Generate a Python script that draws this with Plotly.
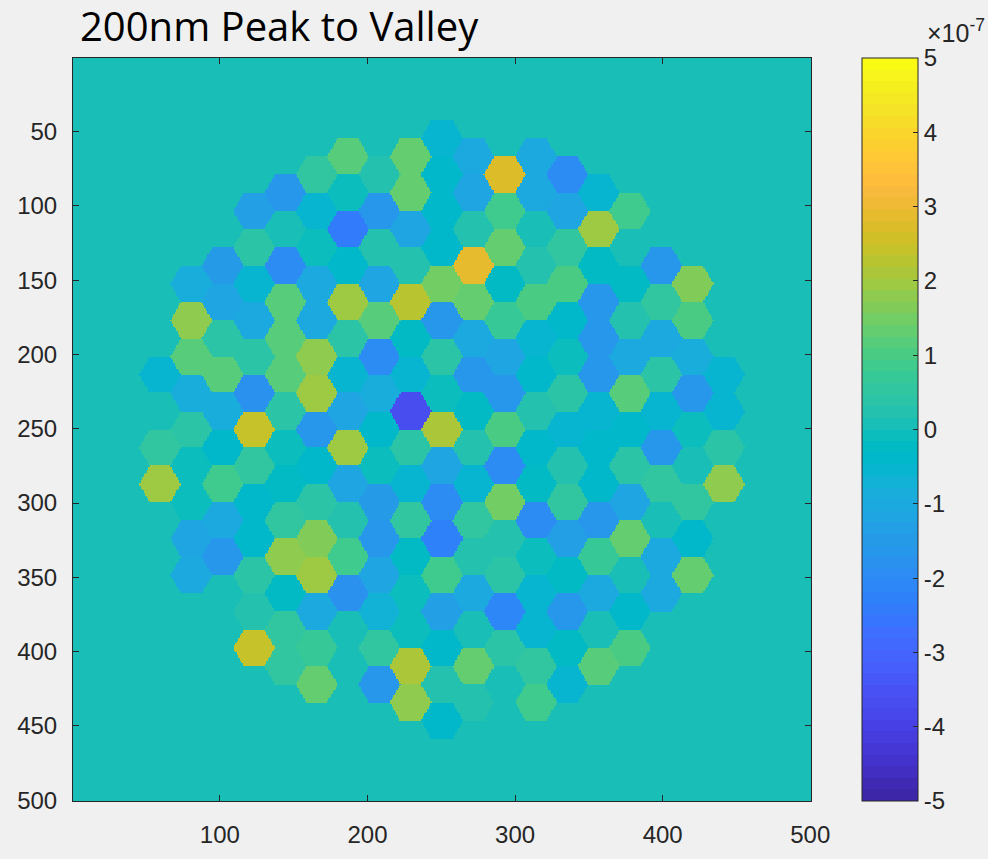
import numpy as np
import plotly.graph_objects as go

# ---- Segment values (units of 1e-7), one list per hex column, left (k=-9) to right (k=+9),
# ---- each listed top to bottom
col_n9 = [-0.6, 0.0, 0.5, 2.0]
col_n8 = [-0.8, 1.85, 1.15, -0.9, 0.4, -0.05, -0.1, -1.25, -1.0]
col_n7 = [-1.5, -1.1, 0.35, 1.1, -0.85, -0.45, 0.9, -1.0, -1.7, 0.0]
col_n6 = [-1.3, 0.4, -0.5, -1.0, 0.4, -1.8, 2.45, 0.55, -0.45, -0.45, 0.4, 0.2, 2.45]
col_n5 = [-1.7, 0.15, -1.9, 1.1, 1.1, 1.15, 0.45, -0.15, -0.2, 0.55, 1.85, -0.25, 0.6, 0.5]
col_n4 = [0.6, -0.5, -0.1, -1.0, -1.05, 1.8, 1.9, -1.6, -0.4, 0.35, 1.6, 1.9, -0.95, 0.65, 1.3]
col_n3 = [1.1, -0.1, -2.5, -0.4, 1.9, 0.4, -0.55, -1.25, 2.0, -1.2, 0.25, 0.8, -1.75, 0.05, 0.1, 0.0]
col_n2 = [0.2, -1.7, 0.3, -1.15, 1.1, -2.0, -0.85, -0.45, -0.05, -1.45, -1.7, -1.15, -0.75, 0.6, -1.65]
col_n1 = [1.35, 1.35, -1.1, 0.3, 2.3, -0.3, -0.6, -3.7, 0.35, -0.55, 0.6, -0.25, -0.15, -0.1, 2.1, 1.85]
col_0 = [-0.5, -0.4, -0.45, -0.35, 1.45, -1.6, 0.45, -0.15, 2.1, -1.1, -1.9, -2.2, 0.8, -1.4, -0.45, 0.2, -0.4]
col_p1 = [-1.0, -1.2, 0.25, 2.85, 1.4, -1.0, -1.7, -0.2, 0.3, -0.5, 0.55, 0.3, -1.0, 0.15, 1.25, 0.2]
col_p2 = [2.7, 0.9, 1.3, -0.3, 0.65, -1.15, -1.7, 0.95, -1.9, 1.5, 0.25, 0.35, -2.05, 0.4, 0.15]
col_p3 = [-1.0, -1.0, 0.0, 0.2, 0.95, -0.6, -0.4, 0.3, -0.45, -0.2, -1.95, -0.1, -0.6, -0.5, 0.5, 0.8]
col_p4 = [-2.0, -1.1, 0.5, 0.95, -0.35, -0.05, 0.45, -0.5, 0.2, 0.5, -1.3, -0.3, -1.7, -0.3, -0.55]
col_p5 = [-0.6, 2.0, -0.25, -1.6, -1.7, -1.6, -0.55, -0.4, -0.45, -1.7, 0.65, -1.0, 0.15, 1.2]
col_p6 = [0.9, 0.1, -0.3, 0.3, -1.0, 1.15, -0.45, 0.45, -1.1, 1.3, 0.15, -0.45, 0.95]
col_p7 = [-1.7, 0.6, -1.05, 0.45, -0.5, -1.65, 0.6, 0.05, -1.05, -0.95]
col_p8 = [1.6, 1.0, -0.8, -1.6, -0.05, 0.15, 0.6, -0.45, 1.3]
col_p9 = [-0.6, -0.55, 0.4, 1.8]

column_index = list(range(-9, 10))
columns = [col_n9, col_n8, col_n7, col_n6, col_n5, col_n4, col_n3, col_n2, col_n1, col_0,
           col_p1, col_p2, col_p3, col_p4, col_p5, col_p6, col_p7, col_p8, col_p9]

x_ticks = [100, 200, 300, 400, 500]
y_ticks = [50, 100, 150, 200, 250, 300, 350, 400, 450, 500]
cbar_ticks = [-5, -4, -3, -2, -1, 0, 1, 2, 3, 4, 5]
title_text = "200nm Peak to Valley"
exponent_text = "×10<sup>-7</sup>"

# ---- geometry of the segmented aperture (image is 500 x 500 pixels)
N = 500
center = 250.5
pitch_x = 21.22
pitch_y = 24.5
aperture_r = 197.0
R = pitch_x / 1.5
half_h = pitch_y / 2
s3 = np.sqrt(3.0)

img = np.zeros((N, N), dtype=np.float32)
coords = np.arange(1, N + 1, dtype=float)
for k, vals in zip(column_index, columns):
    offs = 0.5 if k % 2 else 0.0
    rows = [m + offs for m in range(-9, 10)
            if (k * pitch_x) ** 2 + ((m + offs) * pitch_y) ** 2 <= aperture_r ** 2]
    assert len(rows) == len(vals), (k, len(rows), len(vals))
    cx = center + k * pitch_x
    for r, v in zip(rows, vals):
        cy = center + r * pitch_y
        x0 = max(int(np.ceil(cx - R)), 1); x1 = min(int(np.floor(cx + R)), N)
        y0 = max(int(np.ceil(cy - half_h)), 1); y1 = min(int(np.floor(cy + half_h)), N)
        xs = coords[x0 - 1:x1]
        ys = coords[y0 - 1:y1]
        dx = np.abs(xs[None, :] - cx)
        dy = np.abs(ys[:, None] - cy)
        inside = (dx <= R) & (dy <= half_h) & (s3 * dx + dy <= s3 * R)
        sub = img[y0 - 1:y1, x0 - 1:x1]
        sub[inside] = v

# ---- MATLAB parula (64 entries), stepped like imagesc
parula = [
    (0.2422, 0.1504, 0.6603), (0.2504, 0.1650, 0.7076), (0.2578, 0.1818, 0.7511), (0.2647, 0.1978, 0.7952),
    (0.2706, 0.2147, 0.8364), (0.2751, 0.2342, 0.8710), (0.2783, 0.2559, 0.8991), (0.2803, 0.2782, 0.9221),
    (0.2813, 0.3006, 0.9414), (0.2810, 0.3228, 0.9579), (0.2795, 0.3447, 0.9717), (0.2760, 0.3667, 0.9829),
    (0.2699, 0.3892, 0.9906), (0.2602, 0.4123, 0.9952), (0.2440, 0.4358, 0.9988), (0.2206, 0.4603, 0.9973),
    (0.1963, 0.4847, 0.9892), (0.1834, 0.5074, 0.9798), (0.1786, 0.5289, 0.9682), (0.1764, 0.5499, 0.9520),
    (0.1687, 0.5703, 0.9359), (0.1540, 0.5902, 0.9218), (0.1460, 0.6091, 0.9079), (0.1380, 0.6276, 0.8973),
    (0.1248, 0.6459, 0.8883), (0.1113, 0.6635, 0.8763), (0.0952, 0.6798, 0.8598), (0.0689, 0.6948, 0.8394),
    (0.0297, 0.7082, 0.8163), (0.0036, 0.7203, 0.7917), (0.0067, 0.7312, 0.7660), (0.0433, 0.7411, 0.7394),
    (0.0964, 0.7500, 0.7120), (0.1408, 0.7584, 0.6842), (0.1717, 0.7670, 0.6554), (0.1938, 0.7758, 0.6251),
    (0.2161, 0.7843, 0.5923), (0.2470, 0.7918, 0.5567), (0.2906, 0.7973, 0.5188), (0.3406, 0.8008, 0.4789),
    (0.3909, 0.8029, 0.4354), (0.4456, 0.8024, 0.3909), (0.5044, 0.7993, 0.3480), (0.5616, 0.7942, 0.3045),
    (0.6174, 0.7876, 0.2612), (0.6720, 0.7793, 0.2227), (0.7242, 0.7698, 0.1910), (0.7738, 0.7598, 0.1646),
    (0.8203, 0.7498, 0.1535), (0.8634, 0.7406, 0.1596), (0.9035, 0.7330, 0.1774), (0.9393, 0.7288, 0.2100),
    (0.9728, 0.7298, 0.2394), (0.9956, 0.7434, 0.2371), (0.9970, 0.7659, 0.2199), (0.9952, 0.7893, 0.2028),
    (0.9892, 0.8136, 0.1885), (0.9786, 0.8386, 0.1766), (0.9676, 0.8639, 0.1643), (0.9610, 0.8890, 0.1537),
    (0.9597, 0.9135, 0.1423), (0.9628, 0.9373, 0.1265), (0.9691, 0.9606, 0.1064), (0.9769, 0.9839, 0.0805),
]
ncol = len(parula)
colorscale = []
for i, (r_, g_, b_) in enumerate(parula):
    c = "rgb(%d,%d,%d)" % (round(r_ * 255), round(g_ * 255), round(b_ * 255))
    start = i / ncol
    end = 1.0 if i == ncol - 1 else (i + 1) / ncol - 1e-9
    colorscale.append([start, c])
    colorscale.append([end, c])

# ---- layout in pixels
W, H = 988, 859
L, Rr, T, B = 73, 811, 58, 801
pw, ph = Rr - L, B - T
ink = "#262626"
tick_family = "Liberation Sans Narrow, Liberation Sans, Arial, sans-serif"
tick_font = dict(family=tick_family, size=24, color=ink)

fig = go.Figure(go.Heatmap(
    z=img, x=coords, y=coords,
    colorscale=colorscale, zmin=-5, zmax=5, zsmooth=False,
    hoverinfo="skip",
    colorbar=dict(
        thickness=56, thicknessmode="pixels",
        len=743, lenmode="pixels",
        x=(862 - L) / pw, xanchor="left", xpad=0,
        y=0.5, yanchor="middle", ypad=0,
        outlinecolor=ink, outlinewidth=1,
        tickvals=cbar_ticks, ticktext=[str(t) for t in cbar_ticks],
        ticks="inside", ticklen=5, tickcolor=ink,
        tickfont=tick_font,
    ),
))

fig.update_layout(
    width=W, height=H,
    margin=dict(l=L, r=W - Rr, t=T, b=H - B, pad=0),
    paper_bgcolor="#F0F0F0", plot_bgcolor="#F0F0F0",
    showlegend=False,
    xaxis=dict(range=[0.5, 500.5], tickvals=x_ticks, ticks="inside", ticklen=6, tickcolor=ink,
               showline=True, linecolor=ink, linewidth=1, mirror="ticks",
               showgrid=False, zeroline=False, tickfont=tick_font, ticklabelstandoff=12),
    yaxis=dict(range=[500.5, 0.5], tickvals=y_ticks, ticks="inside", ticklen=6, tickcolor=ink,
               showline=True, linecolor=ink, linewidth=1, mirror="ticks",
               showgrid=False, zeroline=False, tickfont=tick_font, ticklabelstandoff=10),
    annotations=[
        dict(text=title_text, xref="paper", yref="paper",
             x=(78 - L) / pw, y=(B - 25) / ph, xanchor="left", yanchor="middle",
             showarrow=False, font=dict(family="Open Sans, sans-serif", size=40, color="black")),
        dict(text=exponent_text, xref="paper", yref="paper",
             x=(987 - L) / pw, y=(B - 31) / ph, xanchor="right", yanchor="middle",
             showarrow=False, font=dict(family=tick_family, size=25, color=ink)),
    ],
)

fig.write_html("out.html",
               config={"displayModeBar": False},
               post_script="document.body.style.margin='0';document.body.style.background='#F0F0F0';")
